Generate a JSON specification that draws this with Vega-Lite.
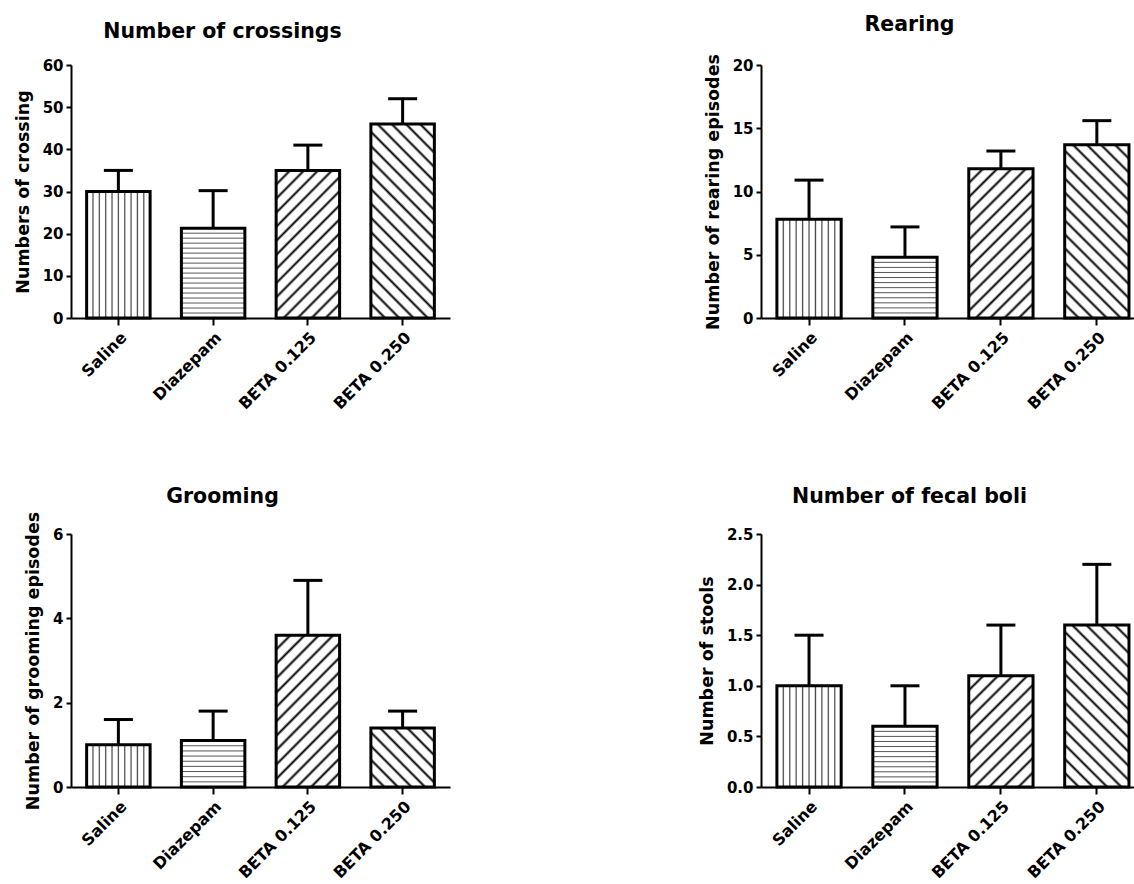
{
"$schema": "https://vega.github.io/schema/vega-lite/v6.json",
"background": "white",
"padding": {"left": 14, "top": 15, "right": 0, "bottom": 0},
"config": {
  "font": "DejaVu Sans",
  "view": {"stroke": null},
  "axis": {"grid": false, "domainColor": "black", "domainWidth": 2, "tickColor": "black", "tickWidth": 2, "labelColor": "black", "labelFont": "DejaVu Sans", "labelFontWeight": "bold", "titleFont": "DejaVu Sans", "titleFontWeight": "bold", "titleColor": "black"},
  "axisX": {"tickSize": 7, "labelPadding": 4, "labelFontSize": 16, "labelAngle": -45, "title": null},
  "axisY": {"tickSize": 5, "labelPadding": 3, "labelFontSize": 15, "titleFontSize": 17.5, "titlePadding": 10},
  "title": {"font": "DejaVu Sans", "fontSize": 20.5, "fontWeight": "bold", "color": "black", "anchor": "middle", "frame": "group", "baseline": "alphabetic", "offset": 21, "dx": -38}
},
"datasets": {
  "d": [
    {"panel": "crossings", "group": "Saline", "mean": 30, "err": 35},
    {"panel": "crossings", "group": "Diazepam", "mean": 21.3, "err": 30.2},
    {"panel": "crossings", "group": "BETA 0.125", "mean": 35, "err": 41},
    {"panel": "crossings", "group": "BETA 0.250", "mean": 46, "err": 52},
    {"panel": "rearing", "group": "Saline", "mean": 7.8, "err": 10.9},
    {"panel": "rearing", "group": "Diazepam", "mean": 4.8, "err": 7.2},
    {"panel": "rearing", "group": "BETA 0.125", "mean": 11.8, "err": 13.2},
    {"panel": "rearing", "group": "BETA 0.250", "mean": 13.7, "err": 15.6},
    {"panel": "grooming", "group": "Saline", "mean": 1.0, "err": 1.6},
    {"panel": "grooming", "group": "Diazepam", "mean": 1.1, "err": 1.8},
    {"panel": "grooming", "group": "BETA 0.125", "mean": 3.6, "err": 4.9},
    {"panel": "grooming", "group": "BETA 0.250", "mean": 1.4, "err": 1.8},
    {"panel": "fecal", "group": "Saline", "mean": 1.0, "err": 1.5},
    {"panel": "fecal", "group": "Diazepam", "mean": 0.6, "err": 1.0},
    {"panel": "fecal", "group": "BETA 0.125", "mean": 1.1, "err": 1.6},
    {"panel": "fecal", "group": "BETA 0.250", "mean": 1.6, "err": 2.2}
  ]
},
"columns": 2,
"bounds": "flush",
"spacing": {"row": 216, "column": 311},
"concat": [
  {
    "width": 379, "height": 253,
    "title": {"text": "Number of crossings", "offset": 16},
    "data": {"name": "d"},
    "transform": [{"filter": "datum.panel === 'crossings'"}],
    "encoding": {
      "x": {"field": "group", "type": "nominal", "sort": ["Saline", "Diazepam", "BETA 0.125", "BETA 0.250"], "scale": {"paddingInner": 0.33, "paddingOuter": 0.165}}
    },
    "layer": [
      {
        "mark": {"type": "bar", "stroke": "black", "strokeWidth": 3, "opacity": 1},
        "encoding": {
          "y": {"field": "mean", "type": "quantitative", "scale": {"domain": [0, 60], "nice": false}, "axis": {"title": "Numbers of crossing", "values": [0, 10, 20, 30, 40, 50, 60]}},
          "fill": {
            "condition": [
              {"test": "datum.group === 'Saline'", "value": {"gradient": "linear", "x1": 0, "y1": 0, "x2": 1, "y2": 0, "stops": [{"offset": 0, "color": "#fff"}, {"offset": 0.081, "color": "#fff"}, {"offset": 0.1, "color": "#444"}, {"offset": 0.119, "color": "#fff"}, {"offset": 0.181, "color": "#fff"}, {"offset": 0.2, "color": "#444"}, {"offset": 0.219, "color": "#fff"}, {"offset": 0.281, "color": "#fff"}, {"offset": 0.3, "color": "#444"}, {"offset": 0.319, "color": "#fff"}, {"offset": 0.381, "color": "#fff"}, {"offset": 0.4, "color": "#444"}, {"offset": 0.419, "color": "#fff"}, {"offset": 0.481, "color": "#fff"}, {"offset": 0.5, "color": "#444"}, {"offset": 0.519, "color": "#fff"}, {"offset": 0.581, "color": "#fff"}, {"offset": 0.6, "color": "#444"}, {"offset": 0.619, "color": "#fff"}, {"offset": 0.681, "color": "#fff"}, {"offset": 0.7, "color": "#444"}, {"offset": 0.719, "color": "#fff"}, {"offset": 0.781, "color": "#fff"}, {"offset": 0.8, "color": "#444"}, {"offset": 0.819, "color": "#fff"}, {"offset": 0.881, "color": "#fff"}, {"offset": 0.9, "color": "#444"}, {"offset": 0.919, "color": "#fff"}, {"offset": 1, "color": "#fff"}]}},
              {"test": "datum.group === 'Diazepam'", "value": {"gradient": "linear", "x1": 0, "y1": 0, "x2": 0, "y2": 1, "stops": [{"offset": 0, "color": "#fff"}, {"offset": 0.0446, "color": "#fff"}, {"offset": 0.0556, "color": "#555"}, {"offset": 0.0666, "color": "#fff"}, {"offset": 0.1001, "color": "#fff"}, {"offset": 0.1111, "color": "#555"}, {"offset": 0.1221, "color": "#fff"}, {"offset": 0.1557, "color": "#fff"}, {"offset": 0.1667, "color": "#555"}, {"offset": 0.1777, "color": "#fff"}, {"offset": 0.2112, "color": "#fff"}, {"offset": 0.2222, "color": "#555"}, {"offset": 0.2332, "color": "#fff"}, {"offset": 0.2668, "color": "#fff"}, {"offset": 0.2778, "color": "#555"}, {"offset": 0.2888, "color": "#fff"}, {"offset": 0.3223, "color": "#fff"}, {"offset": 0.3333, "color": "#555"}, {"offset": 0.3443, "color": "#fff"}, {"offset": 0.3779, "color": "#fff"}, {"offset": 0.3889, "color": "#555"}, {"offset": 0.3999, "color": "#fff"}, {"offset": 0.4334, "color": "#fff"}, {"offset": 0.4444, "color": "#555"}, {"offset": 0.4554, "color": "#fff"}, {"offset": 0.489, "color": "#fff"}, {"offset": 0.5, "color": "#555"}, {"offset": 0.511, "color": "#fff"}, {"offset": 0.5446, "color": "#fff"}, {"offset": 0.5556, "color": "#555"}, {"offset": 0.5666, "color": "#fff"}, {"offset": 0.6001, "color": "#fff"}, {"offset": 0.6111, "color": "#555"}, {"offset": 0.6221, "color": "#fff"}, {"offset": 0.6557, "color": "#fff"}, {"offset": 0.6667, "color": "#555"}, {"offset": 0.6777, "color": "#fff"}, {"offset": 0.7112, "color": "#fff"}, {"offset": 0.7222, "color": "#555"}, {"offset": 0.7332, "color": "#fff"}, {"offset": 0.7668, "color": "#fff"}, {"offset": 0.7778, "color": "#555"}, {"offset": 0.7888, "color": "#fff"}, {"offset": 0.8223, "color": "#fff"}, {"offset": 0.8333, "color": "#555"}, {"offset": 0.8443, "color": "#fff"}, {"offset": 0.8779, "color": "#fff"}, {"offset": 0.8889, "color": "#555"}, {"offset": 0.8999, "color": "#fff"}, {"offset": 0.9334, "color": "#fff"}, {"offset": 0.9444, "color": "#555"}, {"offset": 0.9554, "color": "#fff"}, {"offset": 1, "color": "#fff"}]}},
              {"test": "datum.group === 'BETA 0.125'", "value": {"gradient": "linear", "x1": 0, "y1": 0, "x2": 0.5233, "y2": 1.2067, "stops": [{"offset": 0, "color": "#fff"}, {"offset": 0.0534, "color": "#fff"}, {"offset": 0.0667, "color": "#000"}, {"offset": 0.08, "color": "#fff"}, {"offset": 0.12, "color": "#fff"}, {"offset": 0.1333, "color": "#000"}, {"offset": 0.1466, "color": "#fff"}, {"offset": 0.1867, "color": "#fff"}, {"offset": 0.2, "color": "#000"}, {"offset": 0.2133, "color": "#fff"}, {"offset": 0.2534, "color": "#fff"}, {"offset": 0.2667, "color": "#000"}, {"offset": 0.28, "color": "#fff"}, {"offset": 0.32, "color": "#fff"}, {"offset": 0.3333, "color": "#000"}, {"offset": 0.3466, "color": "#fff"}, {"offset": 0.3867, "color": "#fff"}, {"offset": 0.4, "color": "#000"}, {"offset": 0.4133, "color": "#fff"}, {"offset": 0.4534, "color": "#fff"}, {"offset": 0.4667, "color": "#000"}, {"offset": 0.48, "color": "#fff"}, {"offset": 0.52, "color": "#fff"}, {"offset": 0.5333, "color": "#000"}, {"offset": 0.5466, "color": "#fff"}, {"offset": 0.5867, "color": "#fff"}, {"offset": 0.6, "color": "#000"}, {"offset": 0.6133, "color": "#fff"}, {"offset": 0.6534, "color": "#fff"}, {"offset": 0.6667, "color": "#000"}, {"offset": 0.68, "color": "#fff"}, {"offset": 0.72, "color": "#fff"}, {"offset": 0.7333, "color": "#000"}, {"offset": 0.7466, "color": "#fff"}, {"offset": 0.7867, "color": "#fff"}, {"offset": 0.8, "color": "#000"}, {"offset": 0.8133, "color": "#fff"}, {"offset": 0.8534, "color": "#fff"}, {"offset": 0.8667, "color": "#000"}, {"offset": 0.88, "color": "#fff"}, {"offset": 0.92, "color": "#fff"}, {"offset": 0.9333, "color": "#000"}, {"offset": 0.9466, "color": "#fff"}, {"offset": 1, "color": "#fff"}]}}
            ],
            "value": {"gradient": "linear", "x1": 0, "y1": 1, "x2": 0.3957, "y2": -0.1993, "stops": [{"offset": 0, "color": "#fff"}, {"offset": 0.0446, "color": "#fff"}, {"offset": 0.0556, "color": "#000"}, {"offset": 0.0666, "color": "#fff"}, {"offset": 0.1001, "color": "#fff"}, {"offset": 0.1111, "color": "#000"}, {"offset": 0.1221, "color": "#fff"}, {"offset": 0.1557, "color": "#fff"}, {"offset": 0.1667, "color": "#000"}, {"offset": 0.1777, "color": "#fff"}, {"offset": 0.2112, "color": "#fff"}, {"offset": 0.2222, "color": "#000"}, {"offset": 0.2332, "color": "#fff"}, {"offset": 0.2668, "color": "#fff"}, {"offset": 0.2778, "color": "#000"}, {"offset": 0.2888, "color": "#fff"}, {"offset": 0.3223, "color": "#fff"}, {"offset": 0.3333, "color": "#000"}, {"offset": 0.3443, "color": "#fff"}, {"offset": 0.3779, "color": "#fff"}, {"offset": 0.3889, "color": "#000"}, {"offset": 0.3999, "color": "#fff"}, {"offset": 0.4334, "color": "#fff"}, {"offset": 0.4444, "color": "#000"}, {"offset": 0.4554, "color": "#fff"}, {"offset": 0.489, "color": "#fff"}, {"offset": 0.5, "color": "#000"}, {"offset": 0.511, "color": "#fff"}, {"offset": 0.5446, "color": "#fff"}, {"offset": 0.5556, "color": "#000"}, {"offset": 0.5666, "color": "#fff"}, {"offset": 0.6001, "color": "#fff"}, {"offset": 0.6111, "color": "#000"}, {"offset": 0.6221, "color": "#fff"}, {"offset": 0.6557, "color": "#fff"}, {"offset": 0.6667, "color": "#000"}, {"offset": 0.6777, "color": "#fff"}, {"offset": 0.7112, "color": "#fff"}, {"offset": 0.7222, "color": "#000"}, {"offset": 0.7332, "color": "#fff"}, {"offset": 0.7668, "color": "#fff"}, {"offset": 0.7778, "color": "#000"}, {"offset": 0.7888, "color": "#fff"}, {"offset": 0.8223, "color": "#fff"}, {"offset": 0.8333, "color": "#000"}, {"offset": 0.8443, "color": "#fff"}, {"offset": 0.8779, "color": "#fff"}, {"offset": 0.8889, "color": "#000"}, {"offset": 0.8999, "color": "#fff"}, {"offset": 0.9334, "color": "#fff"}, {"offset": 0.9444, "color": "#000"}, {"offset": 0.9554, "color": "#fff"}, {"offset": 1, "color": "#fff"}]}
          }
        }
      },
      {"mark": {"type": "rule", "strokeWidth": 3, "color": "black", "opacity": 1}, "encoding": {"y": {"field": "mean", "type": "quantitative"}, "y2": {"field": "err"}}},
      {"mark": {"type": "tick", "thickness": 3, "size": 29, "color": "black", "opacity": 1}, "encoding": {"y": {"field": "err", "type": "quantitative"}}}
    ]
  },
  {
    "width": 373, "height": 253,
    "title": {"text": "Rearing", "offset": 18},
    "data": {"name": "d"},
    "transform": [{"filter": "datum.panel === 'rearing'"}],
    "encoding": {
      "x": {"field": "group", "type": "nominal", "sort": ["Saline", "Diazepam", "BETA 0.125", "BETA 0.250"], "scale": {"paddingInner": 0.33, "paddingOuter": 0.109, "align": 0.76}}
    },
    "layer": [
      {
        "mark": {"type": "bar", "stroke": "black", "strokeWidth": 3, "opacity": 1},
        "encoding": {
          "y": {"field": "mean", "type": "quantitative", "scale": {"domain": [0, 20], "nice": false}, "axis": {"title": "Number of rearing episodes", "values": [0, 5, 10, 15, 20]}},
          "fill": {
            "condition": [
              {"test": "datum.group === 'Saline'", "value": {"gradient": "linear", "x1": 0, "y1": 0, "x2": 1, "y2": 0, "stops": [{"offset": 0, "color": "#fff"}, {"offset": 0.081, "color": "#fff"}, {"offset": 0.1, "color": "#444"}, {"offset": 0.119, "color": "#fff"}, {"offset": 0.181, "color": "#fff"}, {"offset": 0.2, "color": "#444"}, {"offset": 0.219, "color": "#fff"}, {"offset": 0.281, "color": "#fff"}, {"offset": 0.3, "color": "#444"}, {"offset": 0.319, "color": "#fff"}, {"offset": 0.381, "color": "#fff"}, {"offset": 0.4, "color": "#444"}, {"offset": 0.419, "color": "#fff"}, {"offset": 0.481, "color": "#fff"}, {"offset": 0.5, "color": "#444"}, {"offset": 0.519, "color": "#fff"}, {"offset": 0.581, "color": "#fff"}, {"offset": 0.6, "color": "#444"}, {"offset": 0.619, "color": "#fff"}, {"offset": 0.681, "color": "#fff"}, {"offset": 0.7, "color": "#444"}, {"offset": 0.719, "color": "#fff"}, {"offset": 0.781, "color": "#fff"}, {"offset": 0.8, "color": "#444"}, {"offset": 0.819, "color": "#fff"}, {"offset": 0.881, "color": "#fff"}, {"offset": 0.9, "color": "#444"}, {"offset": 0.919, "color": "#fff"}, {"offset": 1, "color": "#fff"}]}},
              {"test": "datum.group === 'Diazepam'", "value": {"gradient": "linear", "x1": 0, "y1": 0, "x2": 0, "y2": 1, "stops": [{"offset": 0, "color": "#fff"}, {"offset": 0.0668, "color": "#fff"}, {"offset": 0.0833, "color": "#555"}, {"offset": 0.0998, "color": "#fff"}, {"offset": 0.1502, "color": "#fff"}, {"offset": 0.1667, "color": "#555"}, {"offset": 0.1832, "color": "#fff"}, {"offset": 0.2335, "color": "#fff"}, {"offset": 0.25, "color": "#555"}, {"offset": 0.2665, "color": "#fff"}, {"offset": 0.3168, "color": "#fff"}, {"offset": 0.3333, "color": "#555"}, {"offset": 0.3498, "color": "#fff"}, {"offset": 0.4002, "color": "#fff"}, {"offset": 0.4167, "color": "#555"}, {"offset": 0.4332, "color": "#fff"}, {"offset": 0.4835, "color": "#fff"}, {"offset": 0.5, "color": "#555"}, {"offset": 0.5165, "color": "#fff"}, {"offset": 0.5668, "color": "#fff"}, {"offset": 0.5833, "color": "#555"}, {"offset": 0.5998, "color": "#fff"}, {"offset": 0.6502, "color": "#fff"}, {"offset": 0.6667, "color": "#555"}, {"offset": 0.6832, "color": "#fff"}, {"offset": 0.7335, "color": "#fff"}, {"offset": 0.75, "color": "#555"}, {"offset": 0.7665, "color": "#fff"}, {"offset": 0.8168, "color": "#fff"}, {"offset": 0.8333, "color": "#555"}, {"offset": 0.8498, "color": "#fff"}, {"offset": 0.9002, "color": "#fff"}, {"offset": 0.9167, "color": "#555"}, {"offset": 0.9332, "color": "#fff"}, {"offset": 1, "color": "#fff"}]}},
              {"test": "datum.group === 'BETA 0.125'", "value": {"gradient": "linear", "x1": 0, "y1": 0, "x2": 0.5173, "y2": 1.2069, "stops": [{"offset": 0, "color": "#fff"}, {"offset": 0.0534, "color": "#fff"}, {"offset": 0.0667, "color": "#000"}, {"offset": 0.08, "color": "#fff"}, {"offset": 0.12, "color": "#fff"}, {"offset": 0.1333, "color": "#000"}, {"offset": 0.1466, "color": "#fff"}, {"offset": 0.1867, "color": "#fff"}, {"offset": 0.2, "color": "#000"}, {"offset": 0.2133, "color": "#fff"}, {"offset": 0.2534, "color": "#fff"}, {"offset": 0.2667, "color": "#000"}, {"offset": 0.28, "color": "#fff"}, {"offset": 0.32, "color": "#fff"}, {"offset": 0.3333, "color": "#000"}, {"offset": 0.3466, "color": "#fff"}, {"offset": 0.3867, "color": "#fff"}, {"offset": 0.4, "color": "#000"}, {"offset": 0.4133, "color": "#fff"}, {"offset": 0.4534, "color": "#fff"}, {"offset": 0.4667, "color": "#000"}, {"offset": 0.48, "color": "#fff"}, {"offset": 0.52, "color": "#fff"}, {"offset": 0.5333, "color": "#000"}, {"offset": 0.5466, "color": "#fff"}, {"offset": 0.5867, "color": "#fff"}, {"offset": 0.6, "color": "#000"}, {"offset": 0.6133, "color": "#fff"}, {"offset": 0.6534, "color": "#fff"}, {"offset": 0.6667, "color": "#000"}, {"offset": 0.68, "color": "#fff"}, {"offset": 0.72, "color": "#fff"}, {"offset": 0.7333, "color": "#000"}, {"offset": 0.7466, "color": "#fff"}, {"offset": 0.7867, "color": "#fff"}, {"offset": 0.8, "color": "#000"}, {"offset": 0.8133, "color": "#fff"}, {"offset": 0.8534, "color": "#fff"}, {"offset": 0.8667, "color": "#000"}, {"offset": 0.88, "color": "#fff"}, {"offset": 0.92, "color": "#fff"}, {"offset": 0.9333, "color": "#000"}, {"offset": 0.9466, "color": "#fff"}, {"offset": 1, "color": "#fff"}]}}
            ],
            "value": {"gradient": "linear", "x1": 0, "y1": 1, "x2": 0.445, "y2": -0.205, "stops": [{"offset": 0, "color": "#fff"}, {"offset": 0.0469, "color": "#fff"}, {"offset": 0.0588, "color": "#000"}, {"offset": 0.0707, "color": "#fff"}, {"offset": 0.1057, "color": "#fff"}, {"offset": 0.1176, "color": "#000"}, {"offset": 0.1295, "color": "#fff"}, {"offset": 0.1646, "color": "#fff"}, {"offset": 0.1765, "color": "#000"}, {"offset": 0.1884, "color": "#fff"}, {"offset": 0.2234, "color": "#fff"}, {"offset": 0.2353, "color": "#000"}, {"offset": 0.2472, "color": "#fff"}, {"offset": 0.2822, "color": "#fff"}, {"offset": 0.2941, "color": "#000"}, {"offset": 0.306, "color": "#fff"}, {"offset": 0.341, "color": "#fff"}, {"offset": 0.3529, "color": "#000"}, {"offset": 0.3648, "color": "#fff"}, {"offset": 0.3999, "color": "#fff"}, {"offset": 0.4118, "color": "#000"}, {"offset": 0.4237, "color": "#fff"}, {"offset": 0.4587, "color": "#fff"}, {"offset": 0.4706, "color": "#000"}, {"offset": 0.4825, "color": "#fff"}, {"offset": 0.5175, "color": "#fff"}, {"offset": 0.5294, "color": "#000"}, {"offset": 0.5413, "color": "#fff"}, {"offset": 0.5763, "color": "#fff"}, {"offset": 0.5882, "color": "#000"}, {"offset": 0.6001, "color": "#fff"}, {"offset": 0.6352, "color": "#fff"}, {"offset": 0.6471, "color": "#000"}, {"offset": 0.659, "color": "#fff"}, {"offset": 0.694, "color": "#fff"}, {"offset": 0.7059, "color": "#000"}, {"offset": 0.7178, "color": "#fff"}, {"offset": 0.7528, "color": "#fff"}, {"offset": 0.7647, "color": "#000"}, {"offset": 0.7766, "color": "#fff"}, {"offset": 0.8116, "color": "#fff"}, {"offset": 0.8235, "color": "#000"}, {"offset": 0.8354, "color": "#fff"}, {"offset": 0.8705, "color": "#fff"}, {"offset": 0.8824, "color": "#000"}, {"offset": 0.8943, "color": "#fff"}, {"offset": 0.9293, "color": "#fff"}, {"offset": 0.9412, "color": "#000"}, {"offset": 0.9531, "color": "#fff"}, {"offset": 1, "color": "#fff"}]}
          }
        }
      },
      {"mark": {"type": "rule", "strokeWidth": 3, "color": "black", "opacity": 1}, "encoding": {"y": {"field": "mean", "type": "quantitative"}, "y2": {"field": "err"}}},
      {"mark": {"type": "tick", "thickness": 3, "size": 29, "color": "black", "opacity": 1}, "encoding": {"y": {"field": "err", "type": "quantitative"}}}
    ]
  },
  {
    "width": 379, "height": 253,
    "title": {"text": "Grooming", "offset": 4},
    "data": {"name": "d"},
    "transform": [{"filter": "datum.panel === 'grooming'"}],
    "encoding": {
      "x": {"field": "group", "type": "nominal", "sort": ["Saline", "Diazepam", "BETA 0.125", "BETA 0.250"], "scale": {"paddingInner": 0.33, "paddingOuter": 0.165}}
    },
    "layer": [
      {
        "mark": {"type": "bar", "stroke": "black", "strokeWidth": 3, "opacity": 1},
        "encoding": {
          "y": {"field": "mean", "type": "quantitative", "scale": {"domain": [0, 6], "nice": false}, "axis": {"title": "Number of grooming episodes", "values": [0, 2, 4, 6]}},
          "fill": {
            "condition": [
              {"test": "datum.group === 'Saline'", "value": {"gradient": "linear", "x1": 0, "y1": 0, "x2": 1, "y2": 0, "stops": [{"offset": 0, "color": "#fff"}, {"offset": 0.081, "color": "#fff"}, {"offset": 0.1, "color": "#444"}, {"offset": 0.119, "color": "#fff"}, {"offset": 0.181, "color": "#fff"}, {"offset": 0.2, "color": "#444"}, {"offset": 0.219, "color": "#fff"}, {"offset": 0.281, "color": "#fff"}, {"offset": 0.3, "color": "#444"}, {"offset": 0.319, "color": "#fff"}, {"offset": 0.381, "color": "#fff"}, {"offset": 0.4, "color": "#444"}, {"offset": 0.419, "color": "#fff"}, {"offset": 0.481, "color": "#fff"}, {"offset": 0.5, "color": "#444"}, {"offset": 0.519, "color": "#fff"}, {"offset": 0.581, "color": "#fff"}, {"offset": 0.6, "color": "#444"}, {"offset": 0.619, "color": "#fff"}, {"offset": 0.681, "color": "#fff"}, {"offset": 0.7, "color": "#444"}, {"offset": 0.719, "color": "#fff"}, {"offset": 0.781, "color": "#fff"}, {"offset": 0.8, "color": "#444"}, {"offset": 0.819, "color": "#fff"}, {"offset": 0.881, "color": "#fff"}, {"offset": 0.9, "color": "#444"}, {"offset": 0.919, "color": "#fff"}, {"offset": 1, "color": "#fff"}]}},
              {"test": "datum.group === 'Diazepam'", "value": {"gradient": "linear", "x1": 0, "y1": 0, "x2": 0, "y2": 1, "stops": [{"offset": 0, "color": "#fff"}, {"offset": 0.0896, "color": "#fff"}, {"offset": 0.1111, "color": "#555"}, {"offset": 0.1326, "color": "#fff"}, {"offset": 0.2007, "color": "#fff"}, {"offset": 0.2222, "color": "#555"}, {"offset": 0.2437, "color": "#fff"}, {"offset": 0.3118, "color": "#fff"}, {"offset": 0.3333, "color": "#555"}, {"offset": 0.3548, "color": "#fff"}, {"offset": 0.4229, "color": "#fff"}, {"offset": 0.4444, "color": "#555"}, {"offset": 0.4659, "color": "#fff"}, {"offset": 0.5341, "color": "#fff"}, {"offset": 0.5556, "color": "#555"}, {"offset": 0.5771, "color": "#fff"}, {"offset": 0.6452, "color": "#fff"}, {"offset": 0.6667, "color": "#555"}, {"offset": 0.6882, "color": "#fff"}, {"offset": 0.7563, "color": "#fff"}, {"offset": 0.7778, "color": "#555"}, {"offset": 0.7993, "color": "#fff"}, {"offset": 0.8674, "color": "#fff"}, {"offset": 0.8889, "color": "#555"}, {"offset": 0.9104, "color": "#fff"}, {"offset": 1, "color": "#fff"}]}},
              {"test": "datum.group === 'BETA 0.125'", "value": {"gradient": "linear", "x1": 0, "y1": 0, "x2": 0.5089, "y2": 1.2071, "stops": [{"offset": 0, "color": "#fff"}, {"offset": 0.0534, "color": "#fff"}, {"offset": 0.0667, "color": "#000"}, {"offset": 0.08, "color": "#fff"}, {"offset": 0.12, "color": "#fff"}, {"offset": 0.1333, "color": "#000"}, {"offset": 0.1466, "color": "#fff"}, {"offset": 0.1867, "color": "#fff"}, {"offset": 0.2, "color": "#000"}, {"offset": 0.2133, "color": "#fff"}, {"offset": 0.2534, "color": "#fff"}, {"offset": 0.2667, "color": "#000"}, {"offset": 0.28, "color": "#fff"}, {"offset": 0.32, "color": "#fff"}, {"offset": 0.3333, "color": "#000"}, {"offset": 0.3466, "color": "#fff"}, {"offset": 0.3867, "color": "#fff"}, {"offset": 0.4, "color": "#000"}, {"offset": 0.4133, "color": "#fff"}, {"offset": 0.4534, "color": "#fff"}, {"offset": 0.4667, "color": "#000"}, {"offset": 0.48, "color": "#fff"}, {"offset": 0.52, "color": "#fff"}, {"offset": 0.5333, "color": "#000"}, {"offset": 0.5466, "color": "#fff"}, {"offset": 0.5867, "color": "#fff"}, {"offset": 0.6, "color": "#000"}, {"offset": 0.6133, "color": "#fff"}, {"offset": 0.6534, "color": "#fff"}, {"offset": 0.6667, "color": "#000"}, {"offset": 0.68, "color": "#fff"}, {"offset": 0.72, "color": "#fff"}, {"offset": 0.7333, "color": "#000"}, {"offset": 0.7466, "color": "#fff"}, {"offset": 0.7867, "color": "#fff"}, {"offset": 0.8, "color": "#000"}, {"offset": 0.8133, "color": "#fff"}, {"offset": 0.8534, "color": "#fff"}, {"offset": 0.8667, "color": "#000"}, {"offset": 0.88, "color": "#fff"}, {"offset": 0.92, "color": "#fff"}, {"offset": 0.9333, "color": "#000"}, {"offset": 0.9466, "color": "#fff"}, {"offset": 1, "color": "#fff"}]}}
            ],
            "value": {"gradient": "linear", "x1": 0, "y1": 1, "x2": 1.0389, "y2": 0.0421, "stops": [{"offset": 0, "color": "#fff"}, {"offset": 0.0881, "color": "#fff"}, {"offset": 0.1111, "color": "#000"}, {"offset": 0.1341, "color": "#fff"}, {"offset": 0.1992, "color": "#fff"}, {"offset": 0.2222, "color": "#000"}, {"offset": 0.2452, "color": "#fff"}, {"offset": 0.3103, "color": "#fff"}, {"offset": 0.3333, "color": "#000"}, {"offset": 0.3563, "color": "#fff"}, {"offset": 0.4214, "color": "#fff"}, {"offset": 0.4444, "color": "#000"}, {"offset": 0.4674, "color": "#fff"}, {"offset": 0.5326, "color": "#fff"}, {"offset": 0.5556, "color": "#000"}, {"offset": 0.5786, "color": "#fff"}, {"offset": 0.6437, "color": "#fff"}, {"offset": 0.6667, "color": "#000"}, {"offset": 0.6897, "color": "#fff"}, {"offset": 0.7548, "color": "#fff"}, {"offset": 0.7778, "color": "#000"}, {"offset": 0.8008, "color": "#fff"}, {"offset": 0.8659, "color": "#fff"}, {"offset": 0.8889, "color": "#000"}, {"offset": 0.9119, "color": "#fff"}, {"offset": 1, "color": "#fff"}]}
          }
        }
      },
      {"mark": {"type": "rule", "strokeWidth": 3, "color": "black", "opacity": 1}, "encoding": {"y": {"field": "mean", "type": "quantitative"}, "y2": {"field": "err"}}},
      {"mark": {"type": "tick", "thickness": 3, "size": 29, "color": "black", "opacity": 1}, "encoding": {"y": {"field": "err", "type": "quantitative"}}}
    ]
  },
  {
    "width": 373, "height": 253,
    "title": {"text": "Number of fecal boli", "offset": 20},
    "data": {"name": "d"},
    "transform": [{"filter": "datum.panel === 'fecal'"}],
    "encoding": {
      "x": {"field": "group", "type": "nominal", "sort": ["Saline", "Diazepam", "BETA 0.125", "BETA 0.250"], "scale": {"paddingInner": 0.33, "paddingOuter": 0.109, "align": 0.76}}
    },
    "layer": [
      {
        "mark": {"type": "bar", "stroke": "black", "strokeWidth": 3, "opacity": 1},
        "encoding": {
          "y": {"field": "mean", "type": "quantitative", "scale": {"domain": [0, 2.5], "nice": false}, "axis": {"title": "Number of stools", "values": [0, 0.5, 1, 1.5, 2, 2.5], "format": ".1f"}},
          "fill": {
            "condition": [
              {"test": "datum.group === 'Saline'", "value": {"gradient": "linear", "x1": 0, "y1": 0, "x2": 1, "y2": 0, "stops": [{"offset": 0, "color": "#fff"}, {"offset": 0.081, "color": "#fff"}, {"offset": 0.1, "color": "#444"}, {"offset": 0.119, "color": "#fff"}, {"offset": 0.181, "color": "#fff"}, {"offset": 0.2, "color": "#444"}, {"offset": 0.219, "color": "#fff"}, {"offset": 0.281, "color": "#fff"}, {"offset": 0.3, "color": "#444"}, {"offset": 0.319, "color": "#fff"}, {"offset": 0.381, "color": "#fff"}, {"offset": 0.4, "color": "#444"}, {"offset": 0.419, "color": "#fff"}, {"offset": 0.481, "color": "#fff"}, {"offset": 0.5, "color": "#444"}, {"offset": 0.519, "color": "#fff"}, {"offset": 0.581, "color": "#fff"}, {"offset": 0.6, "color": "#444"}, {"offset": 0.619, "color": "#fff"}, {"offset": 0.681, "color": "#fff"}, {"offset": 0.7, "color": "#444"}, {"offset": 0.719, "color": "#fff"}, {"offset": 0.781, "color": "#fff"}, {"offset": 0.8, "color": "#444"}, {"offset": 0.819, "color": "#fff"}, {"offset": 0.881, "color": "#fff"}, {"offset": 0.9, "color": "#444"}, {"offset": 0.919, "color": "#fff"}, {"offset": 1, "color": "#fff"}]}},
              {"test": "datum.group === 'Diazepam'", "value": {"gradient": "linear", "x1": 0, "y1": 0, "x2": 0, "y2": 1, "stops": [{"offset": 0, "color": "#fff"}, {"offset": 0.0668, "color": "#fff"}, {"offset": 0.0833, "color": "#555"}, {"offset": 0.0998, "color": "#fff"}, {"offset": 0.1502, "color": "#fff"}, {"offset": 0.1667, "color": "#555"}, {"offset": 0.1832, "color": "#fff"}, {"offset": 0.2335, "color": "#fff"}, {"offset": 0.25, "color": "#555"}, {"offset": 0.2665, "color": "#fff"}, {"offset": 0.3168, "color": "#fff"}, {"offset": 0.3333, "color": "#555"}, {"offset": 0.3498, "color": "#fff"}, {"offset": 0.4002, "color": "#fff"}, {"offset": 0.4167, "color": "#555"}, {"offset": 0.4332, "color": "#fff"}, {"offset": 0.4835, "color": "#fff"}, {"offset": 0.5, "color": "#555"}, {"offset": 0.5165, "color": "#fff"}, {"offset": 0.5668, "color": "#fff"}, {"offset": 0.5833, "color": "#555"}, {"offset": 0.5998, "color": "#fff"}, {"offset": 0.6502, "color": "#fff"}, {"offset": 0.6667, "color": "#555"}, {"offset": 0.6832, "color": "#fff"}, {"offset": 0.7335, "color": "#fff"}, {"offset": 0.75, "color": "#555"}, {"offset": 0.7665, "color": "#fff"}, {"offset": 0.8168, "color": "#fff"}, {"offset": 0.8333, "color": "#555"}, {"offset": 0.8498, "color": "#fff"}, {"offset": 0.9002, "color": "#fff"}, {"offset": 0.9167, "color": "#555"}, {"offset": 0.9332, "color": "#fff"}, {"offset": 1, "color": "#fff"}]}},
              {"test": "datum.group === 'BETA 0.125'", "value": {"gradient": "linear", "x1": 0, "y1": 0, "x2": 0.6807, "y2": 1.1837, "stops": [{"offset": 0, "color": "#fff"}, {"offset": 0.0672, "color": "#fff"}, {"offset": 0.0833, "color": "#000"}, {"offset": 0.0994, "color": "#fff"}, {"offset": 0.1506, "color": "#fff"}, {"offset": 0.1667, "color": "#000"}, {"offset": 0.1828, "color": "#fff"}, {"offset": 0.2339, "color": "#fff"}, {"offset": 0.25, "color": "#000"}, {"offset": 0.2661, "color": "#fff"}, {"offset": 0.3172, "color": "#fff"}, {"offset": 0.3333, "color": "#000"}, {"offset": 0.3494, "color": "#fff"}, {"offset": 0.4006, "color": "#fff"}, {"offset": 0.4167, "color": "#000"}, {"offset": 0.4328, "color": "#fff"}, {"offset": 0.4839, "color": "#fff"}, {"offset": 0.5, "color": "#000"}, {"offset": 0.5161, "color": "#fff"}, {"offset": 0.5672, "color": "#fff"}, {"offset": 0.5833, "color": "#000"}, {"offset": 0.5994, "color": "#fff"}, {"offset": 0.6506, "color": "#fff"}, {"offset": 0.6667, "color": "#000"}, {"offset": 0.6828, "color": "#fff"}, {"offset": 0.7339, "color": "#fff"}, {"offset": 0.75, "color": "#000"}, {"offset": 0.7661, "color": "#fff"}, {"offset": 0.8172, "color": "#fff"}, {"offset": 0.8333, "color": "#000"}, {"offset": 0.8494, "color": "#fff"}, {"offset": 0.9006, "color": "#fff"}, {"offset": 0.9167, "color": "#000"}, {"offset": 0.9328, "color": "#fff"}, {"offset": 1, "color": "#fff"}]}}
            ],
            "value": {"gradient": "linear", "x1": 0, "y1": 1, "x2": 0.477, "y2": -0.2068, "stops": [{"offset": 0, "color": "#fff"}, {"offset": 0.05, "color": "#fff"}, {"offset": 0.0625, "color": "#000"}, {"offset": 0.075, "color": "#fff"}, {"offset": 0.1125, "color": "#fff"}, {"offset": 0.125, "color": "#000"}, {"offset": 0.1375, "color": "#fff"}, {"offset": 0.175, "color": "#fff"}, {"offset": 0.1875, "color": "#000"}, {"offset": 0.2, "color": "#fff"}, {"offset": 0.2375, "color": "#fff"}, {"offset": 0.25, "color": "#000"}, {"offset": 0.2625, "color": "#fff"}, {"offset": 0.3, "color": "#fff"}, {"offset": 0.3125, "color": "#000"}, {"offset": 0.325, "color": "#fff"}, {"offset": 0.3625, "color": "#fff"}, {"offset": 0.375, "color": "#000"}, {"offset": 0.3875, "color": "#fff"}, {"offset": 0.425, "color": "#fff"}, {"offset": 0.4375, "color": "#000"}, {"offset": 0.45, "color": "#fff"}, {"offset": 0.4875, "color": "#fff"}, {"offset": 0.5, "color": "#000"}, {"offset": 0.5125, "color": "#fff"}, {"offset": 0.55, "color": "#fff"}, {"offset": 0.5625, "color": "#000"}, {"offset": 0.575, "color": "#fff"}, {"offset": 0.6125, "color": "#fff"}, {"offset": 0.625, "color": "#000"}, {"offset": 0.6375, "color": "#fff"}, {"offset": 0.675, "color": "#fff"}, {"offset": 0.6875, "color": "#000"}, {"offset": 0.7, "color": "#fff"}, {"offset": 0.7375, "color": "#fff"}, {"offset": 0.75, "color": "#000"}, {"offset": 0.7625, "color": "#fff"}, {"offset": 0.8, "color": "#fff"}, {"offset": 0.8125, "color": "#000"}, {"offset": 0.825, "color": "#fff"}, {"offset": 0.8625, "color": "#fff"}, {"offset": 0.875, "color": "#000"}, {"offset": 0.8875, "color": "#fff"}, {"offset": 0.925, "color": "#fff"}, {"offset": 0.9375, "color": "#000"}, {"offset": 0.95, "color": "#fff"}, {"offset": 1, "color": "#fff"}]}
          }
        }
      },
      {"mark": {"type": "rule", "strokeWidth": 3, "color": "black", "opacity": 1}, "encoding": {"y": {"field": "mean", "type": "quantitative"}, "y2": {"field": "err"}}},
      {"mark": {"type": "tick", "thickness": 3, "size": 29, "color": "black", "opacity": 1}, "encoding": {"y": {"field": "err", "type": "quantitative"}}}
    ]
  }
]
}
